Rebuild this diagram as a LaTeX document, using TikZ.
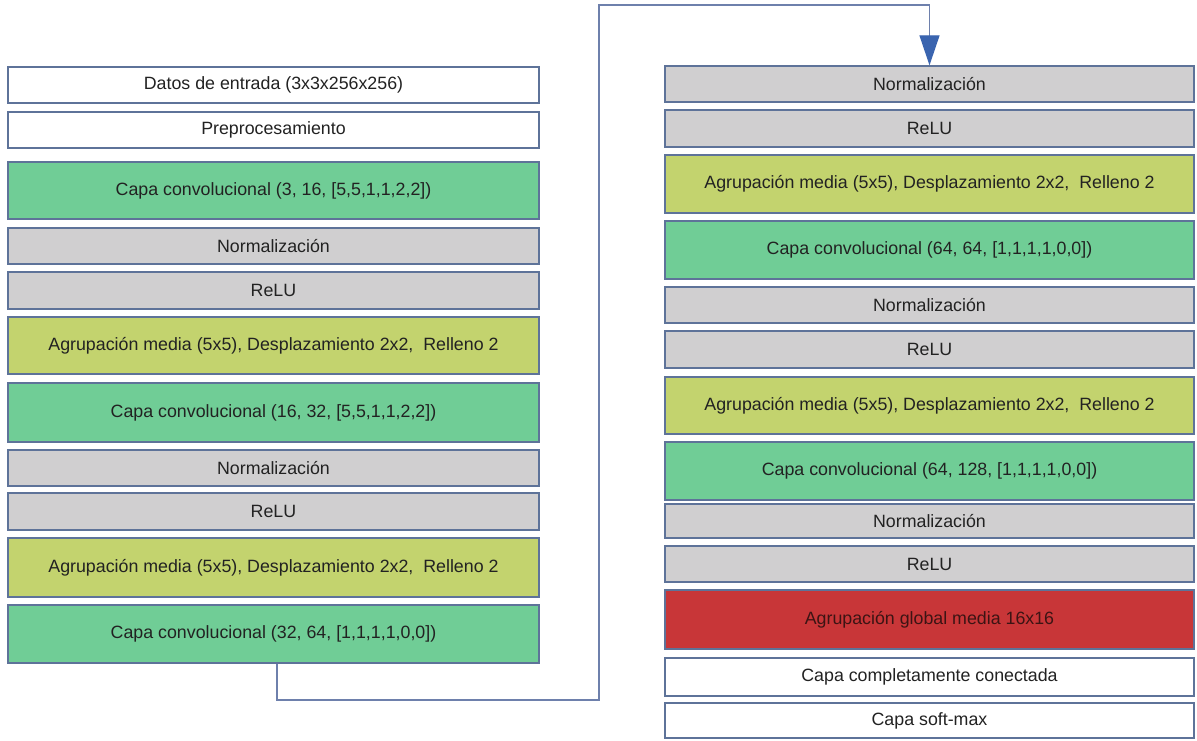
\documentclass[tikz,border=0pt]{standalone}
\usepackage{fontspec}
\setmainfont{Liberation Sans}
\usetikzlibrary{arrows.meta}

\definecolor{bord}{RGB}{94,115,153}
\definecolor{txt}{RGB}{34,34,34}
\definecolor{convfill}{RGB}{112,205,150}
\definecolor{poolfill}{RGB}{195,211,110}
\definecolor{normfill}{RGB}{208,207,208}
\definecolor{gapfill}{RGB}{200,54,56}
\definecolor{linkcol}{RGB}{110,128,172}
\definecolor{tipcol}{RGB}{58,100,175}

% one layer of the network: name, style, x centre, width, top, bottom, label
\newcommand\stage[7]{%
  \node[#2, minimum width=#4pt, minimum height={(#6-#5)*1pt}] (#1)
    at (#3, {-(#5+#6)/2}) {#7};}

\begin{document}
\begin{tikzpicture}[x=1pt, y=1pt,
  layer/.style={draw=bord, line width=1.4pt, rectangle, inner sep=0pt,
    text=txt, font=\fontsize{17.8}{20}\selectfont},
  plain/.style={layer, fill=white},
  conv/.style={layer, fill=convfill},
  pool/.style={layer, fill=poolfill},
  norm/.style={layer, fill=normfill},
  gpool/.style={layer, fill=gapfill, text={rgb,255:red,60;green,20;blue,20}},
  link/.style={draw=linkcol, line width=1.3pt,
    -{Triangle[width=20pt, length=30pt, color=tipcol]}}]

\useasboundingbox (0,0) rectangle (1197,-740);

% left column
\stage{l1}{plain}{273.5}{531}{67}{103}{Datos de entrada (3x3x256x256)}
\stage{l2}{plain}{273.5}{531}{112}{148}{Preprocesamiento}
\stage{l3}{conv}{273.5}{531}{162}{219}{Capa convolucional (3, 16, [5,5,1,1,2,2])}
\stage{l4}{norm}{273.5}{531}{228}{264}{Normalización}
\stage{l5}{norm}{273.5}{531}{272}{309}{ReLU}
\stage{l6}{pool}{273.5}{531}{317}{374}{Agrupación media (5x5), Desplazamiento 2x2,\ \ Relleno 2}
\stage{l7}{conv}{273.5}{531}{383}{442}{Capa convolucional (16, 32, [5,5,1,1,2,2])}
\stage{l8}{norm}{273.5}{531}{450}{486}{Normalización}
\stage{l9}{norm}{273.5}{531}{493}{530}{ReLU}
\stage{l10}{pool}{273.5}{531}{538}{597}{Agrupación media (5x5), Desplazamiento 2x2,\ \ Relleno 2}
\stage{l11}{conv}{273.5}{531}{605}{663}{Capa convolucional (32, 64, [1,1,1,1,0,0])}

% right column
\stage{r1}{norm}{929.5}{529}{66}{102}{Normalización}
\stage{r2}{norm}{929.5}{529}{110}{147}{ReLU}
\stage{r3}{pool}{929.5}{529}{155}{213}{Agrupación media (5x5), Desplazamiento 2x2,\ \ Relleno 2}
\stage{r4}{conv}{929.5}{529}{221}{279}{Capa convolucional (64, 64, [1,1,1,1,0,0])}
\stage{r5}{norm}{929.5}{529}{287}{323}{Normalización}
\stage{r6}{norm}{929.5}{529}{331}{368}{ReLU}
\stage{r7}{pool}{929.5}{529}{377}{434}{Agrupación media (5x5), Desplazamiento 2x2,\ \ Relleno 2}
\stage{r8}{conv}{929.5}{529}{442}{500}{Capa convolucional (64, 128, [1,1,1,1,0,0])}
\stage{r9}{norm}{929.5}{529}{504}{538}{Normalización}
\stage{r10}{norm}{929.5}{529}{546}{582}{ReLU}
\stage{r11}{gpool}{929.5}{529}{590}{649}{Agrupación global media 16x16}
\stage{r12}{plain}{929.5}{529}{658}{696}{Capa completamente conectada}
\stage{r13}{plain}{929.5}{529}{703}{738}{Capa soft-max}

% connector from the bottom of the left column to the top of the right one
\coordinate (k1) at (277,-700);
\coordinate (k2) at (599,-700);
\coordinate (k3) at (599,-5);
\draw[link] (l11.south -| k1) -- (k1) -- (k2) -- (k3) -| (r1.north);

\end{tikzpicture}
\end{document}
